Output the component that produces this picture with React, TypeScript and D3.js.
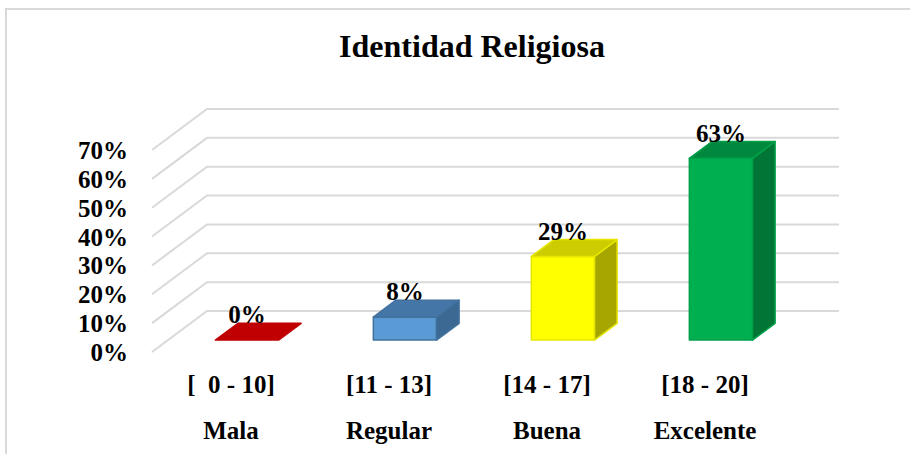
import React, { useEffect, useRef } from 'react';
import * as d3 from 'd3';

const ranges = ['[  0 - 10]', '[11 - 13]', '[14 - 17]', '[18 - 20]'];
const levels = ['Mala', 'Regular', 'Buena', 'Excelente'];
const values = [0, 0.08, 0.29, 0.63];
const valueLabels = ['0%', '8%', '29%', '63%'];
const ticks = [0, 0.1, 0.2, 0.3, 0.4, 0.5, 0.6, 0.7];

// front / top / side shades per bar
const faceColors = [
  { front: '#c00000', top: '#c00000', side: '#900000', stroke: '#c00000' },
  { front: '#5b9bd5', top: '#4477a8', side: '#3b6994', stroke: '#41719c' },
  { front: '#ffff00', top: '#cccc00', side: '#a6a600', stroke: '#e6e600' },
  { front: '#00b050', top: '#00883e', side: '#007536', stroke: '#00a049' },
];

const width = 910;
const height = 454;

const App: React.FC = () => {
  const svgRef = useRef<SVGSVGElement>(null);

  useEffect(() => {
    document.body.style.margin = '0';
    if (!svgRef.current) return;
    const svg = d3.select(svgRef.current);
    svg.selectAll('*').remove();

    const font = '"Liberation Serif", "Times New Roman", serif';

    // 3D geometry: floor front edge and depth vector
    const floorY = 352;
    const depth = { dx: 55, dy: -41 };
    const barFront = 0.29;
    const barBack = 0.7;

    const x = d3.scaleBand<string>()
      .domain(levels)
      .range([152, 784])
      .paddingInner(0.6)
      .paddingOuter(0.3);
    const step = x.step();
    const xCat = d3.scaleBand<string>().domain(levels).range([152, 784]);

    const h = d3.scaleLinear().domain([0, 0.7]).range([0, 202]);

    const pt = (px: number, v: number, d: number): [number, number] => [
      px + d * depth.dx,
      floorY - h(v) + d * depth.dy,
    ];

    // outer border
    svg.append('rect')
      .attr('x', 6).attr('y', 9)
      .attr('width', width).attr('height', height)
      .attr('fill', '#fff')
      .attr('stroke', '#d9d9d9')
      .attr('stroke-width', 2);

    // title
    svg.append('text')
      .text('Identidad Religiosa')
      .attr('x', 472).attr('y', 57)
      .attr('text-anchor', 'middle')
      .attr('font-family', font)
      .attr('font-weight', 'bold')
      .attr('font-size', 32)
      .attr('fill', '#000');

    // gridlines: side wall diagonals + back wall horizontals
    const backRight = 784 + depth.dx;
    ticks.forEach(t => {
      const [fx, fy] = pt(152, t, 0);
      const [bx, by] = pt(152, t, 1);
      svg.append('path')
        .attr('d', d3.line()([[fx, fy], [bx, by], [backRight, by]]))
        .attr('fill', 'none')
        .attr('stroke', '#d9d9d9')
        .attr('stroke-width', 2);

      svg.append('text')
        .text(d3.format('.0%')(t))
        .attr('x', 128)
        .attr('y', fy + 9)
        .attr('text-anchor', 'end')
        .attr('font-family', font)
        .attr('font-weight', 'bold')
        .attr('font-size', 25)
        .attr('fill', '#000');
    });

    // bars
    levels.forEach((lvl, i) => {
      const v = values[i];
      const c = faceColors[i];
      const x0 = x(lvl)!;
      const x1 = x0 + x.bandwidth();
      const g = svg.append('g');
      const poly = (pts: [number, number][], fill: string) =>
        g.append('path')
          .attr('d', d3.line()(pts) + 'Z')
          .attr('fill', fill)
          .attr('stroke', c.stroke)
          .attr('stroke-width', 1.5)
          .attr('stroke-linejoin', 'round');

      if (v > 0) {
        poly([pt(x0, 0, barFront), pt(x1, 0, barFront), pt(x1, v, barFront), pt(x0, v, barFront)], c.front);
        poly([pt(x1, 0, barFront), pt(x1, 0, barBack), pt(x1, v, barBack), pt(x1, v, barFront)], c.side);
      }
      poly([pt(x0, v, barFront), pt(x1, v, barFront), pt(x1, v, barBack), pt(x0, v, barBack)], c.top);

      const [lx] = pt((x0 + x1) / 2, v, barFront);
      const [, ly] = pt(x0, v, barBack);
      svg.append('text')
        .text(valueLabels[i])
        .attr('x', lx)
        .attr('y', ly)
        .attr('text-anchor', 'middle')
        .attr('font-family', font)
        .attr('font-weight', 'bold')
        .attr('font-size', 25)
        .attr('fill', '#000');
    });

    // category labels (two lines)
    levels.forEach((lvl, i) => {
      const cx = xCat(lvl)! + step / 2;
      svg.append('text')
        .text(ranges[i])
        .attr('x', cx).attr('y', 393)
        .attr('text-anchor', 'middle')
        .attr('font-family', font)
        .attr('font-weight', 'bold')
        .attr('font-size', 25)
        .style('white-space', 'pre')
        .attr('fill', '#000');
      svg.append('text')
        .text(lvl)
        .attr('x', cx).attr('y', 439)
        .attr('text-anchor', 'middle')
        .attr('font-family', font)
        .attr('font-weight', 'bold')
        .attr('font-size', 25)
        .attr('fill', '#000');
    });
  }, []);

  return (
    <svg ref={svgRef} width={width} height={height} style={{ display: 'block', background: '#fff' }} />
  );
};

export default App;
